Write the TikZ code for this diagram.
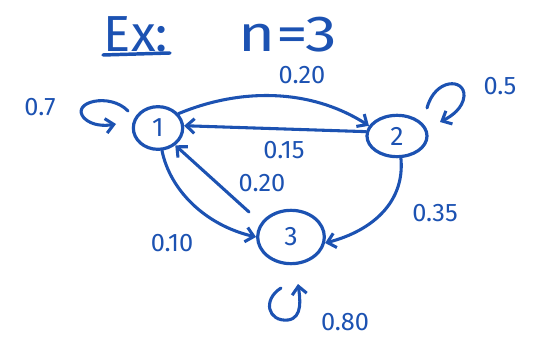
\documentclass[tikz,border=0pt]{standalone}
\usepackage{fontspec}
\setmainfont{Fira Sans}
\usetikzlibrary{arrows.meta,shapes.geometric,calc}
\definecolor{ink}{RGB}{28,82,178}
\tikzset{
  state/.style={draw=ink, line width=2.4pt, ellipse, inner sep=0pt, font=\fontsize{20}{22}\selectfont, text=ink},
  link/.style={draw=ink, line width=2.3pt, line cap=round, -{Straight Barb[length=6pt,width=11pt,line width=2.3pt]}},
  prob/.style={text=ink, font=\fontsize{19}{21}\selectfont},
}
\begin{document}
\begin{tikzpicture}[x=0.75pt,y=-0.75pt]
\useasboundingbox (0,0) rectangle (538,338);
% heading
\node[text=ink, font=\fontsize{38}{40}\selectfont] (ex) at (136,34) {Ex:};
\node[text=ink, font=\fontsize{38}{40}\selectfont, xscale=1.25] (nn) at (288,35) {n=3};
\draw[ink, line width=2.6pt, line cap=round] (103,55) -- (170,53);
% states
\node[state, minimum width=37pt, minimum height=32pt] (s1) at (158,128) {1};
\node[state, minimum width=45pt, minimum height=31pt] (s2) at (397,136) {2};
\node[state, minimum width=50pt, minimum height=40pt] (s3) at (291,237) {3};
% self loops
\coordinate (l1a) at (128,111);
\coordinate (l1b) at (116,124);
\draw[link] (l1a) .. controls (110,92) and (70,102) .. (84,118) .. controls (92,126) and (105,126) .. (l1b);
\coordinate (l2a) at (427,108);
\coordinate (l2b) at (440,122);
\draw[link] (l2a) .. controls (435,78) and (465,78) .. (464,96) .. controls (463,108) and (452,116) .. (l2b);
\coordinate (l3a) at (281,288);
\coordinate (l3b) at (298,284);
\draw[link] (l3a) .. controls (262,300) and (268,322) .. (288,320) .. controls (303,318) and (300,298) .. (l3b);
% transitions
\draw[link] (s1.35) .. controls (240,88) and (310,88) .. (s2.160);
\draw[link] (s2.172) -- (s1.5);
\draw[link] (s1.-80) .. controls (170,190) and (205,225) .. (s3.180);
\coordinate (c3) at (249,212);
\draw[link] (c3) -- (s1.-45);
\draw[link] (s2.-80) .. controls (405,200) and (375,230) .. (s3.-10);
% labels
\node[prob] (p11) at (40,107) {0.7};
\node[prob] (p12) at (302,75) {0.20};
\node[prob] (p21) at (284,150) {0.15};
\node[prob] (p22) at (500,86) {0.5};
\node[prob] (p31) at (262,183) {0.20};
\node[prob] (p13) at (172,243) {0.10};
\node[prob] (p23) at (435,213) {0.35};
\node[prob] (p33) at (345,322) {0.80};
\end{tikzpicture}
\end{document}
